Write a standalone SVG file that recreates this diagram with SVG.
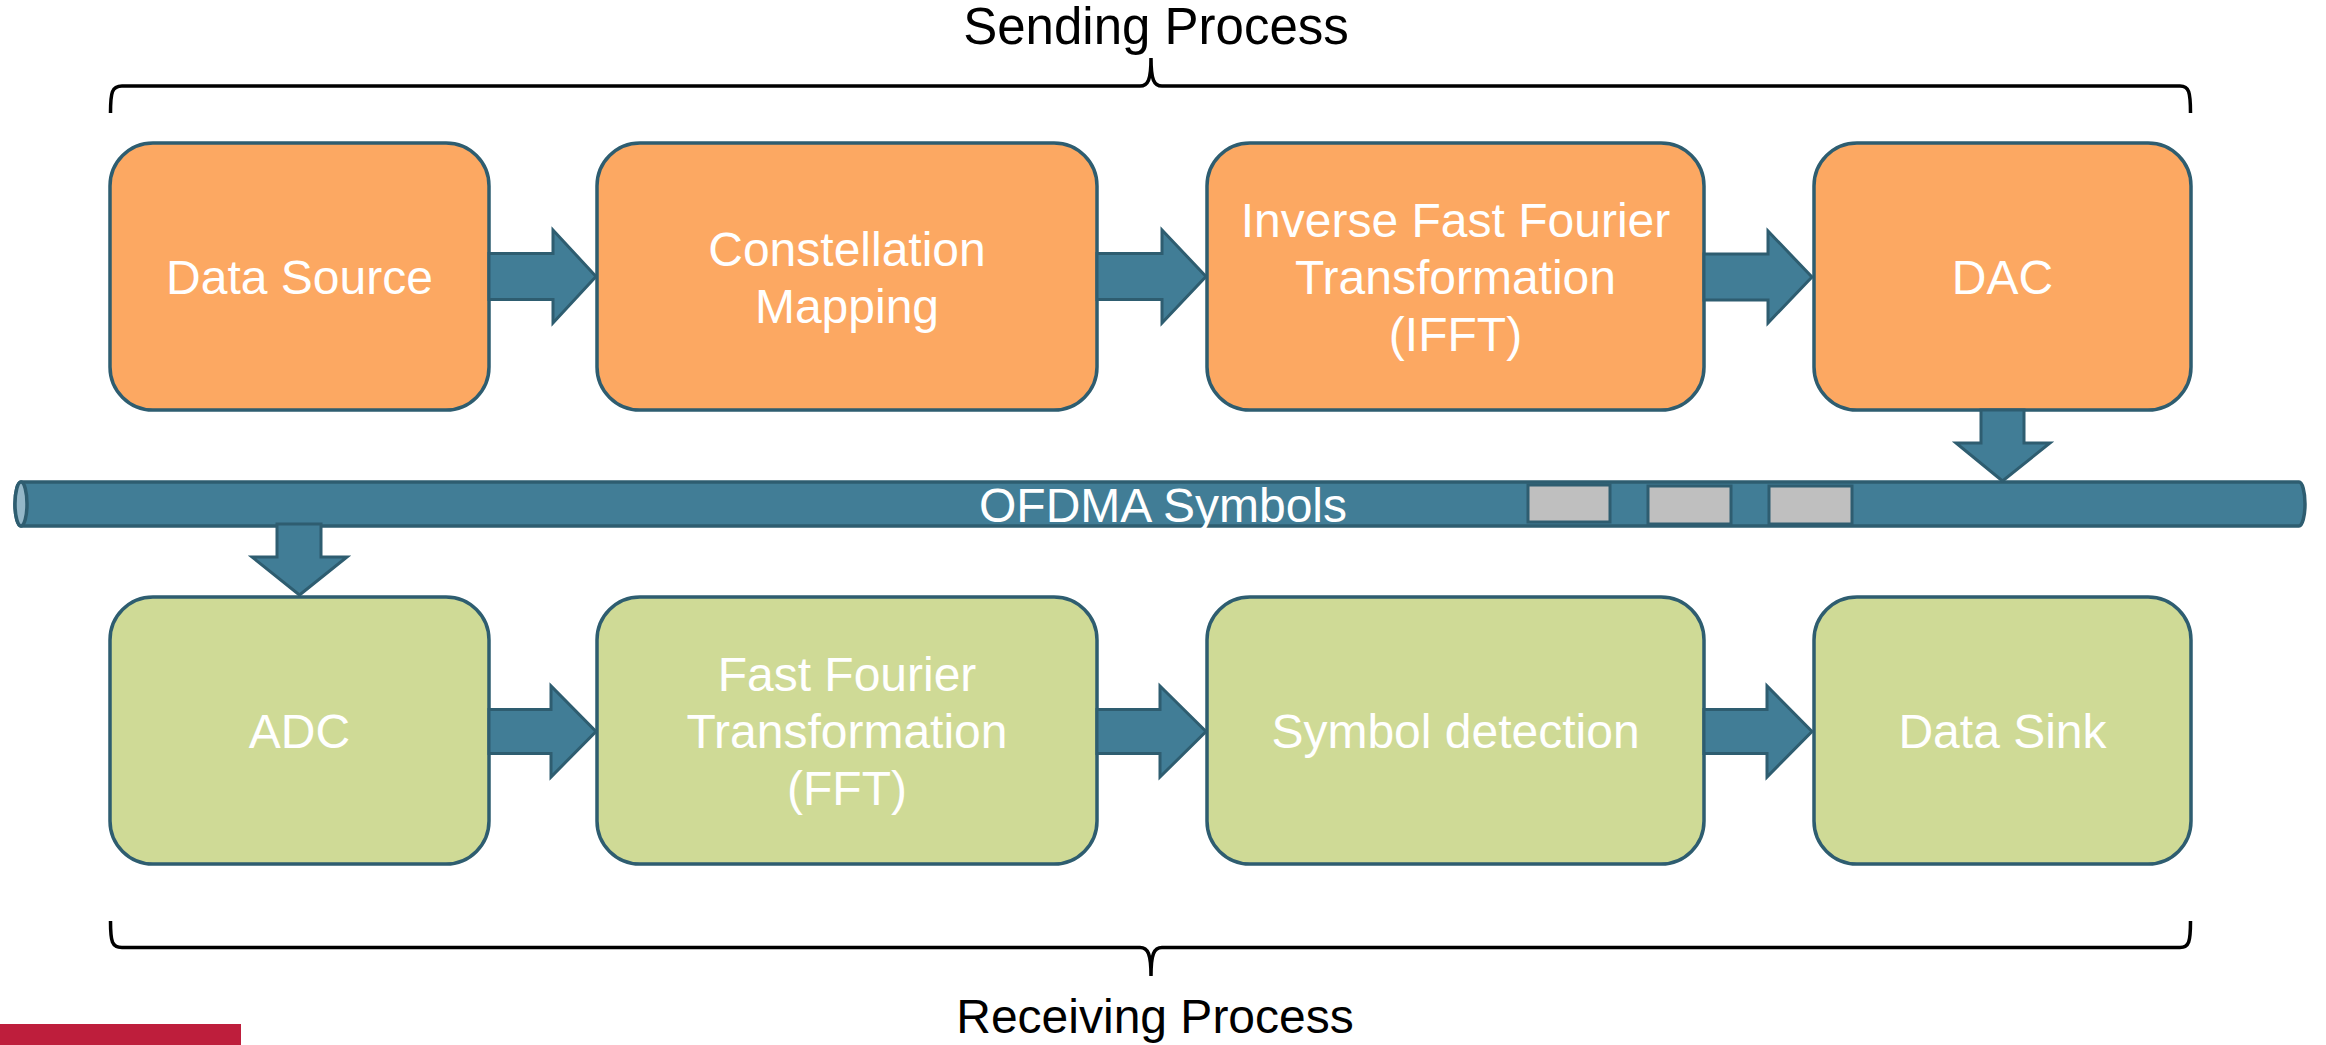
<svg xmlns="http://www.w3.org/2000/svg" width="2326" height="1045" viewBox="0 0 2326 1045">
  <style>
    .lbl { font-family: "Liberation Sans", Arial, sans-serif; font-size: 48px; fill: #ffffff; text-anchor: middle; }
    .title { font-family: "Liberation Sans", Arial, sans-serif; font-size: 48px; fill: #000000; text-anchor: middle; }
    .tx { fill: #FCA862; stroke: #2E5D70; stroke-width: 3.5; }
    .rx { fill: #CFDA96; stroke: #2E5D70; stroke-width: 3.5; }
    .arrow { fill: #417D96; stroke: #2E5D70; stroke-width: 3; stroke-linejoin: miter; }
    .brace { fill: none; stroke: #000000; stroke-width: 3.5; }
  </style>

  <!-- white background -->
  <rect x="0" y="0" width="2326" height="1045" fill="#ffffff"/>

  <!-- braces and process titles -->
  <g id="sending-title">
    <path class="brace" d="M110.5,113 C110.5,92 112,86 122,86 L1140,86 C1148,86 1151,80 1151,58 C1151,80 1154,86 1162,86 L2180,86 C2189,86 2190.5,92 2190.5,113"/>
    <text class="title" x="1156" y="44" style="font-size:51px">Sending Process</text>
  </g>
  <g id="receiving-title">
    <path class="brace" d="M110.5,921 C110.5,942 112,947.5 122,947.5 L1140,947.5 C1148,947.5 1151,954 1151,976 C1151,954 1154,947.5 1162,947.5 L2180,947.5 C2189,947.5 2190.5,942 2190.5,921"/>
    <text class="title" x="1155" y="1033">Receiving Process</text>
  </g>

  <!-- OFDMA symbol bus (horizontal cylinder) -->
  <g id="ofdma-bus">
    <path d="M21,482 L2299,482 A6,22 0 0 1 2299,526 L21,526 A6,22 0 0 1 21,482 Z" fill="#417D96" stroke="#2E5D70" stroke-width="3.5"/>
    <ellipse cx="21" cy="504" rx="6" ry="22" fill="#94B7C8" stroke="#2E5D70" stroke-width="3.5"/>
    <rect x="1528" y="485" width="82" height="37" fill="#BFBFBF" stroke="#2E5D70" stroke-width="3"/>
    <rect x="1648" y="486" width="83" height="38" fill="#BFBFBF" stroke="#2E5D70" stroke-width="3"/>
    <rect x="1769" y="486" width="83" height="38" fill="#BFBFBF" stroke="#2E5D70" stroke-width="3"/>
    <text class="lbl" x="1163" y="522">OFDMA Symbols</text>
  </g>

  <!-- sending chain -->
  <g id="data-source">
    <rect class="tx" x="110" y="143" width="379" height="267" rx="43" ry="43"/>
    <text class="lbl" x="299.5" y="294">Data Source</text>
  </g>
  <g id="constellation-mapping">
    <rect class="tx" x="597" y="143" width="500" height="267" rx="43" ry="43"/>
    <text class="lbl" x="847" y="266">Constellation</text>
    <text class="lbl" x="847" y="323">Mapping</text>
  </g>
  <g id="ifft">
    <rect class="tx" x="1207" y="143" width="497" height="267" rx="43" ry="43"/>
    <text class="lbl" x="1455.5" y="237">Inverse Fast Fourier</text>
    <text class="lbl" x="1455.5" y="294">Transformation</text>
    <text class="lbl" x="1455.5" y="351">(IFFT)</text>
  </g>
  <g id="dac">
    <rect class="tx" x="1814" y="143" width="377" height="267" rx="43" ry="43"/>
    <text class="lbl" x="2002.5" y="294">DAC</text>
  </g>

  <!-- receiving chain -->
  <g id="adc">
    <rect class="rx" x="110" y="597" width="379" height="267" rx="43" ry="43"/>
    <text class="lbl" x="299.5" y="748">ADC</text>
  </g>
  <g id="fft">
    <rect class="rx" x="597" y="597" width="500" height="267" rx="43" ry="43"/>
    <text class="lbl" x="847" y="691">Fast Fourier</text>
    <text class="lbl" x="847" y="748">Transformation</text>
    <text class="lbl" x="847" y="805">(FFT)</text>
  </g>
  <g id="symbol-detection">
    <rect class="rx" x="1207" y="597" width="497" height="267" rx="43" ry="43"/>
    <text class="lbl" x="1455.5" y="748">Symbol detection</text>
  </g>
  <g id="data-sink">
    <rect class="rx" x="1814" y="597" width="377" height="267" rx="43" ry="43"/>
    <text class="lbl" x="2002.5" y="748">Data Sink</text>
  </g>

  <!-- block arrows -->
  <g id="connectors">
    <!-- sending row -->
    <polygon class="arrow" points="489,253.5 553,253.5 553,230 596,276.5 553,323 553,299.5 489,299.5"/>
    <polygon class="arrow" points="1097,253.5 1162,253.5 1162,230 1206,276.5 1162,323 1162,299.5 1097,299.5"/>
    <polygon class="arrow" points="1704,254 1768,254 1768,231 1812,277 1768,323 1768,300 1704,300"/>
    <!-- DAC onto the bus -->
    <polygon class="arrow" points="1981,410 2024,410 2024,443 2050,443 2002.5,481 1956,443 1981,443"/>
    <!-- bus down to ADC -->
    <polygon class="arrow" points="277,524 321,524 321,557 347,557 299.5,595 252,557 277,557"/>
    <!-- receiving row -->
    <polygon class="arrow" points="489,709.5 551,709.5 551,686 596,731.5 551,777 551,753.5 489,753.5"/>
    <polygon class="arrow" points="1097,709.5 1160,709.5 1160,686 1206,731.5 1160,777 1160,753.5 1097,753.5"/>
    <polygon class="arrow" points="1704,709.5 1767,709.5 1767,686 1812,731.5 1767,777 1767,753.5 1704,753.5"/>
  </g>

  <!-- footer accent bar -->
  <rect x="0" y="1024" width="241" height="21" fill="#BE1E3C"/>
</svg>
